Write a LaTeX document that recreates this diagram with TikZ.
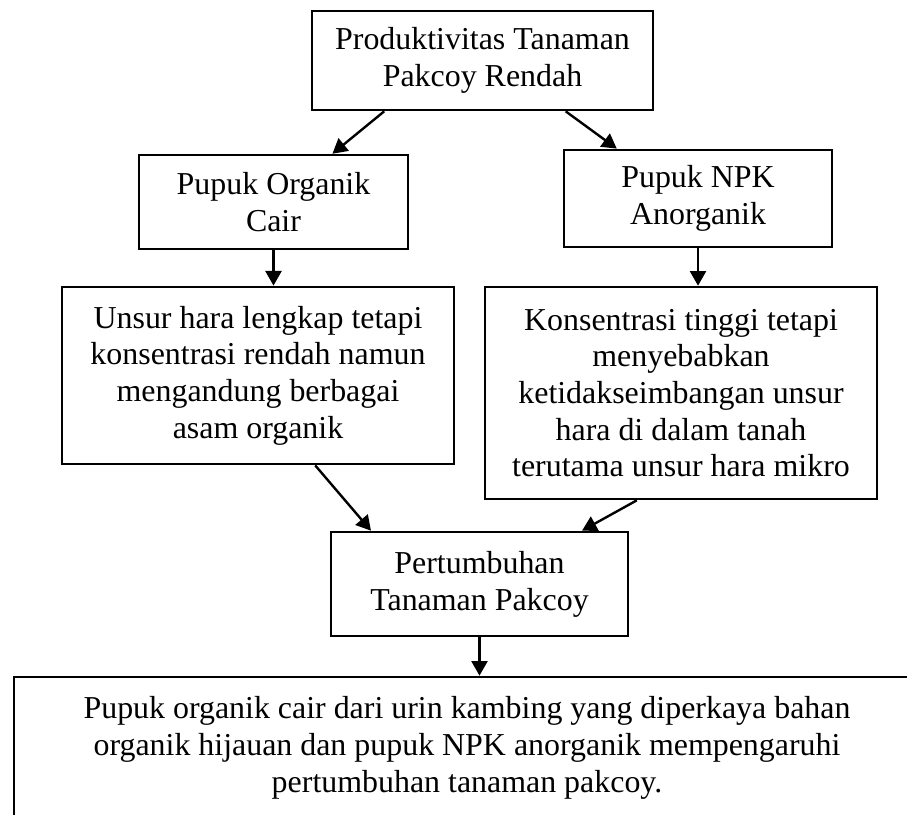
\documentclass[tikz,border=0pt]{standalone}
\usepackage{fontspec}
\setmainfont{Liberation Serif}
\usetikzlibrary{arrows.meta, positioning, calc}

\begin{document}
\begin{tikzpicture}[x=0.376pt, y=-0.376pt,
    box/.style={draw, line width=1pt, align=center, inner sep=0pt,
        font=\fontsize{12}{13.8}\selectfont},
    arr/.style={line width=0.9pt, -{Triangle[length=5.5pt,width=6pt]}}]
    % Frame
    \useasboundingbox (0,0) rectangle (907,814);
    \clip (0,0) rectangle (907,814);

    % Problem
    \node[box, minimum width=128.2pt, minimum height=37.2pt] (top) at (482.5,60.5)
        {Produktivitas Tanaman\\Pakcoy Rendah};

    % The two fertilisers
    \node[box, minimum width=101.1pt, minimum height=35.3pt] (org) at (273.5,202)
        {Pupuk Organik\\Cair};
    \node[box, minimum width=100.8pt, minimum height=36.5pt] (npk) at (698,198.5)
        {Pupuk NPK\\Anorganik};

    % Their effects
    \node[box, minimum width=147.4pt, minimum height=66.6pt] (orgfx) at (258,375.5)
        {Unsur hara lengkap tetapi\\konsentrasi rendah namun\\mengandung berbagai\\asam organik};
    \node[box, minimum width=147.4pt, minimum height=79.7pt] (npkfx) at (681,393)
        {Konsentrasi tinggi tetapi\\menyebabkan\\ketidakseimbangan unsur\\hara di dalam tanah\\terutama unsur hara mikro};

    % Growth
    \node[box, minimum width=111.7pt, minimum height=39.1pt] (grow) at (479.5,584)
        {Pertumbuhan\\Tanaman Pakcoy};

    % Hypothesis
    \node[box, minimum width=340.7pt, minimum height=53.4pt] (res) at (467,748)
        {Pupuk organik cair dari urin kambing yang diperkaya bahan\\organik hijauan dan pupuk NPK anorganik mempengaruhi\\pertumbuhan tanaman pakcoy.};

    % Arrows
    \draw[arr] ($(top.south west)!0.214!(top.south east)$) -- ($(org.north west)!0.717!(org.north east)$);
    \draw[arr] ($(top.south west)!0.742!(top.south east)$) -- ($(npk.north west)!0.2!(npk.north east)$);
    \draw[arr] (org.south) -- (org.south |- orgfx.north);
    \draw[arr] (npk.south) -- (npk.south |- npkfx.north);
    \draw[arr] ($(orgfx.south west)!0.645!(orgfx.south east)$) -- ($(grow.north west)!0.138!(grow.north east)$);
    \draw[arr] ($(npkfx.south west)!0.388!(npkfx.south east)$) -- ($(grow.north west)!0.842!(grow.north east)$);
    \draw[arr] (grow.south) -- (grow.south |- res.north);
\end{tikzpicture}
\end{document}
